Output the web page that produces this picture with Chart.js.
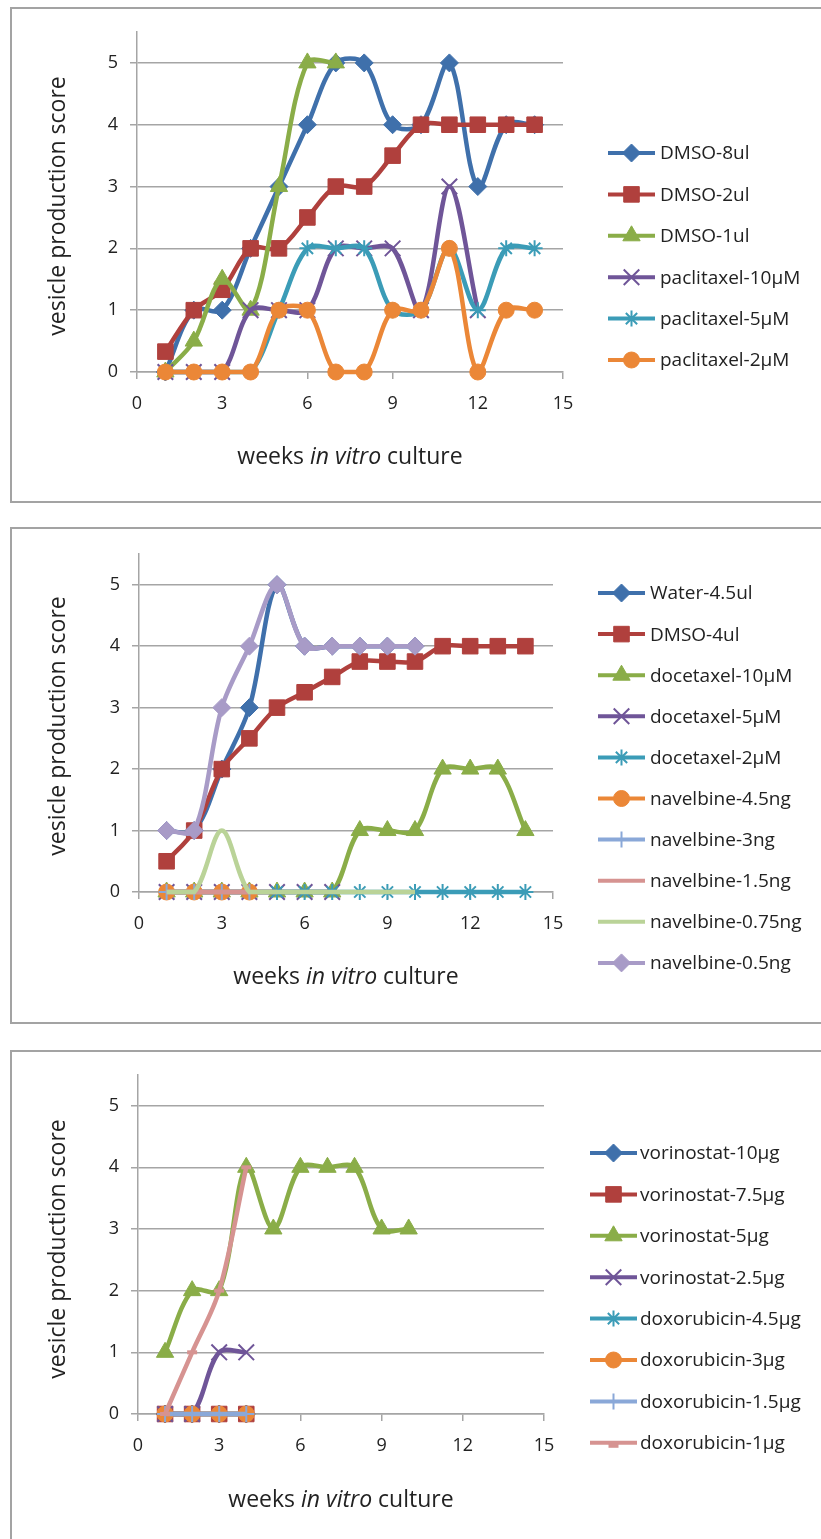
<!DOCTYPE html>
<html>
<head>
<meta charset="utf-8">
<title>vesicle production score</title>
<script src="https://cdn.jsdelivr.net/npm/chart.js@4.4.1/dist/chart.umd.min.js"></script>
<style>
  body { margin: 0; background: #fff; width: 821px; height: 1539px; overflow: hidden; position: relative; font-family: "Open Sans", Lato, sans-serif; color: #222; }
  .panel { position: absolute; left: 10px; width: 840px; border: 2px solid #a3a3a3; box-sizing: border-box; }
  canvas { position: absolute; left: 12px; }
  .ytitle { position: absolute; width: 320px; height: 30px; line-height: 30px; text-align: center; font-size: 23px; transform: rotate(-90deg); }
  .xtitle { position: absolute; width: 320px; height: 30px; line-height: 30px; text-align: center; font-size: 23px; }
</style>
</head>
<body>

<div class="panel" style="top:7px;height:496px"></div>
<div class="panel" style="top:527px;height:497px"></div>
<div class="panel" style="top:1050px;height:520px"></div>

<canvas id="chartA" width="809" height="492" style="top:9px"></canvas>
<canvas id="chartB" width="809" height="493" style="top:529px"></canvas>
<canvas id="chartC" width="809" height="487" style="top:1052px"></canvas>

<div class="ytitle" style="left:-104px;top:191px">vesicle production score</div>
<div class="xtitle" style="left:190px;top:440px">weeks <i>in vitro</i> culture</div>
<div class="ytitle" style="left:-104px;top:711px">vesicle production score</div>
<div class="xtitle" style="left:186px;top:960px">weeks <i>in vitro</i> culture</div>
<div class="ytitle" style="left:-104px;top:1234px">vesicle production score</div>
<div class="xtitle" style="left:181px;top:1483px">weeks <i>in vitro</i> culture</div>

<script>
// ---- DATA ----
const weeks = [1, 2, 3, 4, 5, 6, 7, 8, 9, 10, 11, 12, 13, 14];
const xTicks = [0, 3, 6, 9, 12, 15];
const yTicks = [0, 1, 2, 3, 4, 5];

// top panel
const namesA = ['DMSO-8ul', 'DMSO-2ul', 'DMSO-1ul', 'paclitaxel-10μM', 'paclitaxel-5μM', 'paclitaxel-2μM'];
const dmso8ul = [0, 1, 1, 2, 3, 4, 5, 5, 4, 4, 5, 3, 4, 4];
const dmso2ul = [0.33, 1, 1.33, 2, 2, 2.5, 3, 3, 3.5, 4, 4, 4, 4, 4];
const dmso1ul = [0, 0.5, 1.5, 1, 3, 5, 5];
const paclitaxel10 = [0, 0, 0, 1, 1, 1, 2, 2, 2, 1, 3, 1];
const paclitaxel5 = [0, 0, 0, 0, 1, 2, 2, 2, 1, 1, 2, 1, 2, 2];
const paclitaxel2 = [0, 0, 0, 0, 1, 1, 0, 0, 1, 1, 2, 0, 1, 1];

// middle panel
const namesB = ['Water-4.5ul', 'DMSO-4ul', 'docetaxel-10μM', 'docetaxel-5μM', 'docetaxel-2μM',
  'navelbine-4.5ng', 'navelbine-3ng', 'navelbine-1.5ng', 'navelbine-0.75ng', 'navelbine-0.5ng'];
const water45 = [1, 1, 2, 3, 5, 4, 4, 4, 4, 4];
const dmso4ul = [0.5, 1, 2, 2.5, 3, 3.25, 3.5, 3.75, 3.75, 3.75, 4, 4, 4, 4];
const docetaxel10 = [0, 0, 0, 0, 0, 0, 0, 1, 1, 1, 2, 2, 2, 1];
const docetaxel5 = [0, 0, 0, 0, 0, 0, 0];
const docetaxel2 = [0, 0, 0, 0, 0, 0, 0, 0, 0, 0, 0, 0, 0, 0];
const navelbine45 = [0, 0, 0, 0];
const navelbine3 = [0, 0, 0, 0];
const navelbine15 = [0, 0, 0, 0, 0];
const navelbine075 = [0, 0, 1, 0, 0, 0, 0, 0, 0, 0];
const navelbine05 = [1, 1, 3, 4, 5, 4, 4, 4, 4, 4];

// bottom panel
const namesC = ['vorinostat-10μg', 'vorinostat-7.5μg', 'vorinostat-5μg', 'vorinostat-2.5μg',
  'doxorubicin-4.5μg', 'doxorubicin-3μg', 'doxorubicin-1.5μg', 'doxorubicin-1μg'];
const vorinostat10 = [0, 0, 0, 0];
const vorinostat75 = [0, 0, 0, 0];
const vorinostat5 = [1, 2, 2, 4, 3, 4, 4, 4, 3, 3];
const vorinostat25 = [0, 0, 1, 1];
const doxorubicin45 = [0, 0, 0, 0];
const doxorubicin3 = [0, 0, 0, 0];
const doxorubicin15 = [0, 0, 0, 0];
const doxorubicin1 = [0, 1, 2, 4];

// ---- STYLES ----
const marks = {
  blue:     { color: '#3f70ab', style: 'rectRot',  r: 9,   bw: 1 },
  red:      { color: '#b0403d', style: 'rect',     r: 11,  bw: 1 },
  green:    { color: '#8aad48', style: 'triangle', r: 10,  bw: 1 },
  purple:   { color: '#6f5598', style: 'crossRot', r: 11,  bw: 2 },
  cyan:     { color: '#3b9cb7', style: 'star',     r: 8,   bw: 2 },
  orange:   { color: '#eb8737', style: 'circle',   r: 8,   bw: 1 },
  ltblue:   { color: '#8aa8d8', style: 'cross',    r: 8,   bw: 2 },
  pink:     { color: '#d69391', style: 'line',     r: 0,   bw: 1 },
  ltgreen:  { color: '#bad398', style: 'line',     r: 0,   bw: 1 },
  lavender: { color: '#a89bc7', style: 'rectRot',  r: 9,   bw: 1 },
  dash:     { color: '#d69391', style: 'line',     r: 5,   bw: 4 }
};

function makeDataset(label, values, m, idx, count) {
  return {
    label: label,
    data: values.map((v, i) => ({ x: weeks[i], y: v })),
    borderColor: m.color,
    backgroundColor: m.color,
    borderWidth: 4.5,
    tension: 0.33,
    clip: false,
    pointStyle: m.style,
    pointRadius: m.r,
    pointHoverRadius: m.r,
    pointBackgroundColor: m.color,
    pointBorderColor: m.color,
    pointBorderWidth: m.bw,
    order: count - idx
  };
}

// legend drawn at right: line with marker + label
const sideLegend = {
  id: 'sideLegend',
  afterDraw(chart, args, opts) {
    const ctx = chart.ctx;
    chart.data.datasets.forEach((ds, i) => {
      const y = opts.top + i * opts.gap;
      ctx.save();
      ctx.strokeStyle = ds.borderColor;
      ctx.lineWidth = 4;
      ctx.beginPath();
      ctx.moveTo(opts.x0, y);
      ctx.lineTo(opts.x1, y);
      ctx.stroke();
      if (ds.pointRadius > 0) {
        ctx.fillStyle = ds.pointBackgroundColor;
        ctx.strokeStyle = ds.pointBorderColor;
        ctx.lineWidth = ds.pointBorderWidth;
        const dy = ds.pointStyle === 'line' ? 3 : 0;
        Chart.helpers.drawPoint(ctx, { pointStyle: ds.pointStyle, radius: ds.pointRadius, rotation: 0, borderWidth: ds.pointBorderWidth }, (opts.x0 + opts.x1) / 2, y + dy);
      }
      ctx.fillStyle = '#222';
      ctx.font = '19px "Open Sans"';
      ctx.textBaseline = 'middle';
      ctx.fillText(ds.label, opts.tx, y + 1);
      ctx.restore();
    });
  }
};

function drawPanel(id, datasets, box, legend) {
  const canvas = document.getElementById(id);
  const W = canvas.width, H = canvas.height;
  const gridColor = '#a5a5a5';
  const tickFont = { family: 'Open Sans', size: 18 };
  return new Chart(canvas, {
    type: 'line',
    data: { datasets: datasets },
    options: {
      responsive: false,
      animation: false,
      devicePixelRatio: 1,
      layout: { padding: { left: 0, top: box.top, right: W - box.right, bottom: 0 } },
      plugins: { legend: { display: false }, tooltip: { enabled: false }, sideLegend: legend },
      scales: {
        x: {
          type: 'linear', min: 0, max: 15,
          afterBuildTicks: s => { s.ticks = xTicks.map(v => ({ value: v })); },
          afterFit: s => { s.height = H - box.bottom; },
          grid: { drawOnChartArea: false, color: gridColor, lineWidth: 1.5, tickLength: 7 },
          border: { color: gridColor, width: 1.5 },
          ticks: { color: '#222', font: tickFont, padding: 14, maxRotation: 0 }
        },
        y: {
          min: 0, max: 5.5,
          afterBuildTicks: s => { s.ticks = yTicks.map(v => ({ value: v })); },
          afterFit: s => { s.width = box.left; },
          grid: { color: gridColor, lineWidth: 1.5, tickLength: 7 },
          border: { color: gridColor, width: 1.5 },
          ticks: { color: '#222', font: tickFont, padding: 12 }
        }
      }
    },
    plugins: [sideLegend]
  });
}

const colsA = ['blue', 'red', 'green', 'purple', 'cyan', 'orange'];
const valsA = [dmso8ul, dmso2ul, dmso1ul, paclitaxel10, paclitaxel5, paclitaxel2];
drawPanel('chartA',
  valsA.map((v, i) => makeDataset(namesA[i], v, marks[colsA[i]], i, valsA.length)),
  { left: 125, right: 551, top: 23, bottom: 363 },
  { x0: 596, x1: 643, tx: 648, top: 144, gap: 41.4 });

const colsB = ['blue', 'red', 'green', 'purple', 'cyan', 'orange', 'ltblue', 'pink', 'ltgreen', 'lavender'];
const valsB = [water45, dmso4ul, docetaxel10, docetaxel5, docetaxel2, navelbine45, navelbine3, navelbine15, navelbine075, navelbine05];
drawPanel('chartB',
  valsB.map((v, i) => makeDataset(namesB[i], v, marks[colsB[i]], i, valsB.length)),
  { left: 127, right: 541, top: 25, bottom: 363 },
  { x0: 586, x1: 633, tx: 638, top: 64, gap: 41.1 });

const colsC = ['blue', 'red', 'green', 'purple', 'cyan', 'orange', 'ltblue', 'dash'];
const valsC = [vorinostat10, vorinostat75, vorinostat5, vorinostat25, doxorubicin45, doxorubicin3, doxorubicin15, doxorubicin1];
drawPanel('chartC',
  valsC.map((v, i) => makeDataset(namesC[i], v, marks[colsC[i]], i, valsC.length)),
  { left: 126, right: 532, top: 22, bottom: 362 },
  { x0: 578, x1: 625, tx: 628, top: 101, gap: 41.4 });
</script>
</body>
</html>
